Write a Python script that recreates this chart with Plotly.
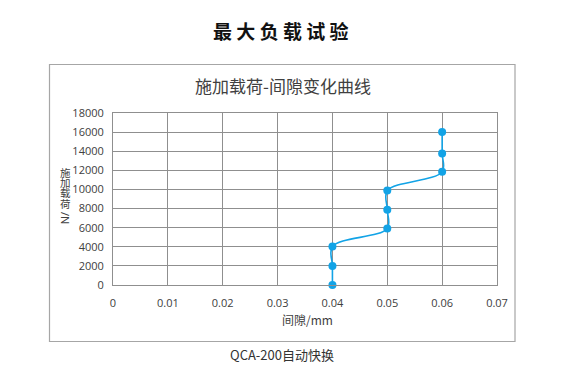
import plotly.graph_objects as go

gap_mm = [0.04, 0.04, 0.04, 0.05, 0.05, 0.05, 0.06, 0.06, 0.06]
load_n = [0, 2000, 4030, 5920, 7880, 9880, 11840, 13770, 16000]

x_ticks = [0, 0.01, 0.02, 0.03, 0.04, 0.05, 0.06, 0.07]
x_tick_labels = ["0", "0.01", "0.02", "0.03", "0.04", "0.05", "0.06", "0.07"]
y_ticks = [0, 2000, 4000, 6000, 8000, 10000, 12000, 14000, 16000, 18000]
y_tick_labels = [str(v) for v in y_ticks]

page_title = "最大负载试验"
chart_title = "施加载荷-间隙变化曲线"
x_title = "间隙/mm"
y_title_chars = ["施", "加", "载", "荷"]
y_title_unit = "/N"
caption = "QCA-200自动快换"

# page body has an 8px margin; work in reference-pixel coordinates
OFF = 8
W, H = 563 - OFF, 370 - OFF
L, T = 113 - OFF, 113 - OFF
R = W - (497 - OFF)
B = H - (285 - OFF)
pw, ph = W - L - R, H - T - B


def px(x):
    return (x - OFF - L) / pw


def py(y):
    return (H - B - (y - OFF)) / ph


FONT = "Open Sans, Noto Sans CJK SC, sans-serif"
CJK = "Noto Sans CJK SC, sans-serif"
BLUE = "#12a3e6"
GRID = "#8f8f8f"

fig = go.Figure()
fig.add_trace(go.Scatter(
    x=gap_mm, y=load_n, mode="lines+markers",
    line=dict(color=BLUE, width=1.6, shape="spline", smoothing=1.0),
    marker=dict(color=BLUE, size=8),
    showlegend=False, cliponaxis=False,
))

fig.update_layout(
    width=W, height=H,
    margin=dict(l=L, r=R, t=T, b=B, pad=0),
    paper_bgcolor="white", plot_bgcolor="white",
    font=dict(family=FONT, size=11, color="#404040"),
    xaxis=dict(range=[0, 0.07], tickvals=x_ticks, ticktext=x_tick_labels,
               showgrid=True, gridcolor=GRID, gridwidth=1,
               showline=True, linecolor=GRID, linewidth=1, mirror=True,
               zeroline=False, ticks="", ticklabelstandoff=8,
               tickfont=dict(size=11, color="#404040")),
    yaxis=dict(range=[0, 18000], tickvals=y_ticks, ticktext=y_tick_labels,
               showgrid=True, gridcolor=GRID, gridwidth=1,
               showline=True, linecolor=GRID, linewidth=1, mirror=True,
               zeroline=False, ticks="", ticklabelstandoff=6,
               tickfont=dict(size=11, color="#404040")),
)

# outer chart box
fig.add_shape(type="rect", xref="paper", yref="paper",
              x0=px(49.5), x1=px(515), y0=py(341.5), y1=py(64.5),
              line=dict(color="#a6a6a6", width=1.2), fillcolor="rgba(0,0,0,0)",
              layer="below")

ann = []
ann.append(dict(text="<b>" + " ".join(page_title) + "</b>", x=px(281), y=py(30),
                font=dict(family=CJK, size=19, color="#111111")))
ann.append(dict(text=chart_title, x=px(283), y=py(85.5),
                font=dict(family=CJK, size=17, color="#404040")))
ann.append(dict(text=x_title, x=px(307), y=py(319),
                font=dict(family=CJK, size=12, color="#404040")))
ann.append(dict(text=caption, x=px(282), y=py(354),
                font=dict(family=CJK, size=13, color="#333333")))
for i, ch in enumerate(y_title_chars):
    ann.append(dict(text=ch, x=px(65), y=py(172 + i * 10.4),
                    font=dict(family=CJK, size=10.5, color="#404040")))
ann.append(dict(text=y_title_unit, x=px(65.5), y=py(217.5), textangle=90,
                font=dict(family=FONT, size=11, color="#404040")))

for a in ann:
    a.update(xref="paper", yref="paper", showarrow=False,
             xanchor="center", yanchor="middle")
    fig.add_annotation(**a)

fig.write_html("out.html")
